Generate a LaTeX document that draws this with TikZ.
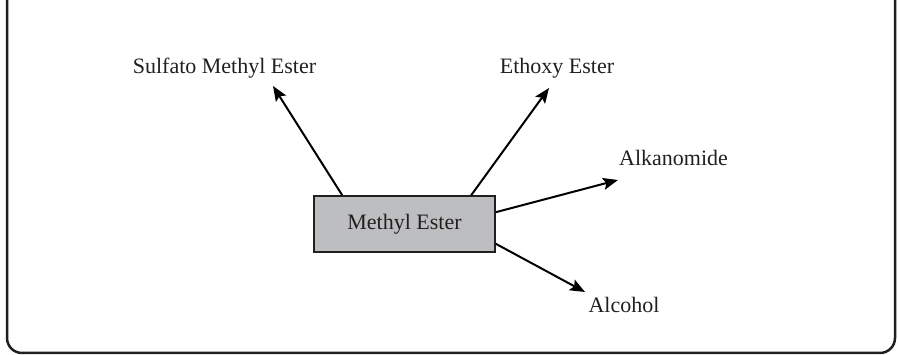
\documentclass[tikz,border=0pt]{standalone}
\usepackage{fontspec}
\setmainfont{Liberation Serif}
\usetikzlibrary{arrows.meta,calc}
\definecolor{ink}{HTML}{231F20}
\definecolor{boxgray}{HTML}{BCBEC0}
\tikzset{
  lbl/.style={anchor=base,inner sep=0pt,text=ink,font=\fontsize{22}{26}\selectfont},
  arr/.style={line width=2pt,-{Stealth[length=15pt,width=12pt,inset=3pt]}},
  mainbox/.style={draw=ink,line width=1.6pt,fill=boxgray,minimum width=181pt,minimum height=56pt,inner sep=0pt,text=ink,font=\fontsize{22}{26}\selectfont},
}
\begin{document}
\begin{tikzpicture}[x=1pt,y=-1pt]
\useasboundingbox (0,0) rectangle (898,355);
\draw[ink,line width=2.5pt,rounded corners=15pt] (7,-20) -- (7,353) -- (895,353) -- (895,-20);
\node[mainbox] (me) at (404.5,224) {Methyl Ester};
\node[lbl] (sme) at (224.5,74) {Sulfato Methyl Ester};
\node[lbl] (ee) at (557,74) {Ethoxy Ester};
\node[lbl] (ak) at (673.5,166) {Alkanomide};
\node[lbl] (al) at (624,313) {Alcohol};
\draw[arr] ($(me.north west)+(29,0)$) -- ($(sme.base)+(48.5,12)$);
\draw[arr] ($(me.north west)+(158,0)$) -- ($(ee.base)+(-8,14)$);
\draw[arr] ($(me.north east)+(0,17)$) -- ($(ak.base)+(-55.5,14)$);
\draw[arr] ($(me.south east)+(0,-9)$) -- ($(al.base)+(-39,-21)$);
\end{tikzpicture}
\end{document}
